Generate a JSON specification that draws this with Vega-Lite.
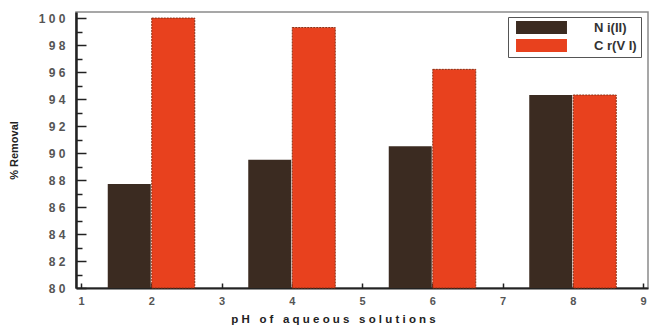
{
  "$schema": "https://vega.github.io/schema/vega-lite/v6.json",
  "width": 572,
  "height": 276,
  "autosize": "none",
  "padding": {"left": 76, "top": 12, "right": 3, "bottom": 41},
  "background": "white",
  "config": {
    "view": {"stroke": "#8a8a8a", "strokeWidth": 1.5},
    "font": "Liberation Sans"
  },
  "data": {
    "values": [
      {"ph": 2, "metal": "N i(II)", "removal": 87.7},
      {"ph": 4, "metal": "N i(II)", "removal": 89.5},
      {"ph": 6, "metal": "N i(II)", "removal": 90.5},
      {"ph": 8, "metal": "N i(II)", "removal": 94.3},
      {"ph": 2, "metal": "C r(V I)", "removal": 100.0},
      {"ph": 4, "metal": "C r(V I)", "removal": 99.3},
      {"ph": 6, "metal": "C r(V I)", "removal": 96.2},
      {"ph": 8, "metal": "C r(V I)", "removal": 94.3}
    ]
  },
  "encoding": {
    "x": {
      "field": "ph", "type": "quantitative",
      "scale": {"domain": [1, 9], "nice": false, "zero": false},
      "axis": {
        "values": [1, 2, 3, 4, 5, 6, 7, 8, 9],
        "grid": false,
        "tickSize": -5, "tickColor": "#222", "tickWidth": 1.5,
        "domainColor": "#222", "domainWidth": 2,
        "labelFont": "Liberation Sans", "labelFontWeight": "bold", "labelFontSize": 11, "labelColor": "#555",
        "labelPadding": 12,
        "title": "p H \u00a0 o f \u00a0 a q u e o u s \u00a0 s o l u t i o n s",
        "titleFont": "Liberation Sans", "titleFontWeight": "bold", "titleFontSize": 11.5, "titleColor": "#222",
        "titlePadding": 7, "titleAnchor": "middle", "titleX": 257
      }
    },
    "y": {
      "field": "removal", "type": "quantitative",
      "scale": {"domain": [80, 100.45], "nice": false, "zero": false},
      "axis": null
    },
    "y2": {"datum": 80}
  },
  "layer": [
    {
      "transform": [{"filter": "datum.metal == 'N i(II)'"}],
      "mark": {"type": "bar", "width": 43, "xOffset": -22},
      "encoding": {
        "color": {
          "field": "metal", "type": "nominal",
          "scale": {"domain": ["N i(II)", "C r(V I)"], "range": ["#3b2b21", "#e8411e"]},
          "legend": {
            "title": null,
            "orient": "none", "legendX": 432, "legendY": 5,
            "symbolType": "M-3.92,-1H3.92V1H-3.92Z", "symbolSize": 169,
            "symbolStrokeWidth": 0,
            "symbolOffset": 23,
            "labelFont": "Liberation Sans", "labelFontWeight": "bold", "labelFontSize": 13, "labelColor": "#333",
            "labelAlign": "left",
            "labelOffset": 46,
            "rowPadding": 4,
            "padding": 4,
            "strokeColor": "#555", "fillColor": "white"
          }
        },
        "y": {
          "field": "removal", "type": "quantitative",
          "axis": {
            "values": [80, 82, 84, 86, 88, 90, 92, 94, 96, 98, 100],
            "grid": false,
            "tickSize": -10, "tickColor": "#222", "tickWidth": 1.5,
            "domainColor": "#222", "domainWidth": 2.5,
            "labelFont": "Liberation Sans", "labelFontWeight": "bold", "labelFontSize": 12, "labelColor": "#555",
            "labelPadding": 21,
            "labelExpr": "join(split(datum.label, ''), ' ')",
            "title": "% Removal",
            "titleFont": "Liberation Sans", "titleFontWeight": "bold", "titleFontSize": 11, "titleColor": "#222",
            "titlePadding": 19
          }
        }
      }
    },
    {
      "transform": [{"filter": "datum.metal == 'C r(V I)'"}],
      "mark": {"type": "bar", "width": 43, "xOffset": 22, "stroke": "#8a3015", "strokeWidth": 1, "strokeDash": [2, 1]},
      "encoding": {
        "color": {"field": "metal", "type": "nominal"}
      }
    },
    {
      "mark": {"type": "rule", "opacity": 0},
      "encoding": {
        "y2": null,
        "y": {
          "field": "removal", "type": "quantitative",
          "axis": {
            "orient": "left",
            "values": [81, 83, 85, 87, 89, 91, 93, 95, 97, 99],
            "grid": false, "labels": false, "domain": false, "title": null,
            "tickSize": -6, "tickColor": "#222", "tickWidth": 1.5
          }
        }
      }
    }
  ],
  "resolve": {"axis": {"y": "independent"}}
}
